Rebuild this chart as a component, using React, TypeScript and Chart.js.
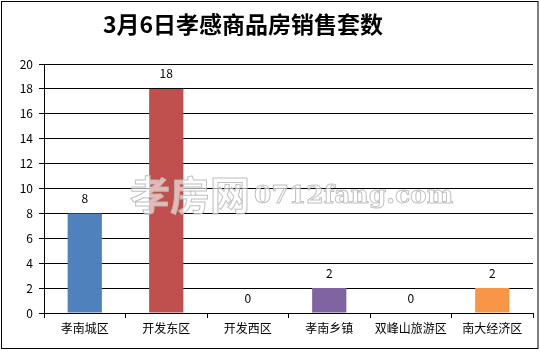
import React, { useEffect, useRef } from "react";
import { Chart, registerables } from "chart.js";

Chart.register(...registerables);

const titleText = "3月6日孝感商品房销售套数";
const categories = ["孝南城区", "开发东区", "开发西区", "孝南乡镇", "双峰山旅游区", "南大经济区"];
const salesValues = [8, 18, 0, 2, 0, 2];
const barColors = ["#4F81BD", "#C0504D", "#9BBB59", "#8064A2", "#4BACC6", "#F79646"];
const yMin = 0;
const yMax = 20;
const yStep = 2;
const watermarkCn = "孝房网";
const watermarkEn = "0712fang.com";

const CJK = '"Noto Sans CJK SC", "DejaVu Sans", sans-serif';

const decorPlugin = {
  id: "decor",
  afterDraw(chart: any) {
    const ctx = chart.ctx;
    ctx.save();
    // data labels
    const meta = chart.getDatasetMeta(0);
    ctx.font = `12px ${CJK}`;
    ctx.fillStyle = "#000";
    ctx.textAlign = "center";
    ctx.textBaseline = "middle";
    meta.data.forEach((bar: any, i: number) => {
      ctx.fillText(String(salesValues[i]), bar.x, bar.y - 15);
    });
    // watermark
    ctx.lineWidth = 1;
    ctx.strokeStyle = "rgba(185,185,185,0.9)";
    ctx.fillStyle = "rgba(255,255,255,0.6)";
    ctx.textAlign = "left";
    ctx.textBaseline = "alphabetic";
    ctx.font = `bold 40px ${CJK}`;
    ctx.fillText(watermarkCn, 130, 210);
    ctx.strokeText(watermarkCn, 130, 210);
    ctx.font = `bold 25px "DejaVu Serif", serif`;
    ctx.fillText(watermarkEn, 254, 203);
    ctx.strokeText(watermarkEn, 254, 203);
    // title
    ctx.fillStyle = "#000";
    ctx.font = `bold 23px ${CJK}`;
    ctx.textAlign = "center";
    ctx.textBaseline = "middle";
    ctx.fillText(titleText, 243, 24);
    // outer border
    ctx.strokeStyle = "#000";
    ctx.lineWidth = 1;
    ctx.strokeRect(1.5, 1.5, 536.5, 347);
    ctx.restore();
  },
};

export default function App() {
  const ref = useRef<HTMLCanvasElement | null>(null);
  useEffect(() => {
    document.body.style.margin = "0";
    const chart = new Chart(ref.current as HTMLCanvasElement, {
      type: "bar",
      data: {
        labels: categories,
        datasets: [
          {
            data: salesValues,
            backgroundColor: barColors,
            borderWidth: 0,
            barPercentage: 0.42,
            categoryPercentage: 1,
          },
        ],
      },
      options: {
        responsive: false,
        animation: false,
        devicePixelRatio: 1,
        layout: { padding: { left: 0, top: 64, right: 7, bottom: 0 } },
        plugins: { legend: { display: false }, tooltip: { enabled: false }, title: { display: false } },
        scales: {
          x: {
            grid: { offset: true, drawOnChartArea: false, drawTicks: true, tickLength: 5, color: "#000" },
            border: { display: true, color: "#000" },
            ticks: { color: "#000", font: { family: CJK, size: 12 }, padding: 3, maxRotation: 0, autoSkip: false },
            afterFit: (s: any) => { s.height = 38; },
          },
          y: {
            min: yMin,
            max: yMax,
            grid: { color: "#000", drawTicks: true, tickLength: 5 },
            border: { display: true, color: "#000" },
            ticks: { stepSize: yStep, color: "#000", font: { family: CJK, size: 12 }, padding: 6 },
            afterFit: (s: any) => { s.width = 44; },
          },
        },
      },
      plugins: [decorPlugin],
    });
    return () => chart.destroy();
  }, []);
  return (
    <div style={{ position: "absolute", left: 0, top: 0, width: 540, height: 351, background: "#fff" }}>
      <canvas ref={ref} width={540} height={351} />
    </div>
  );
}
